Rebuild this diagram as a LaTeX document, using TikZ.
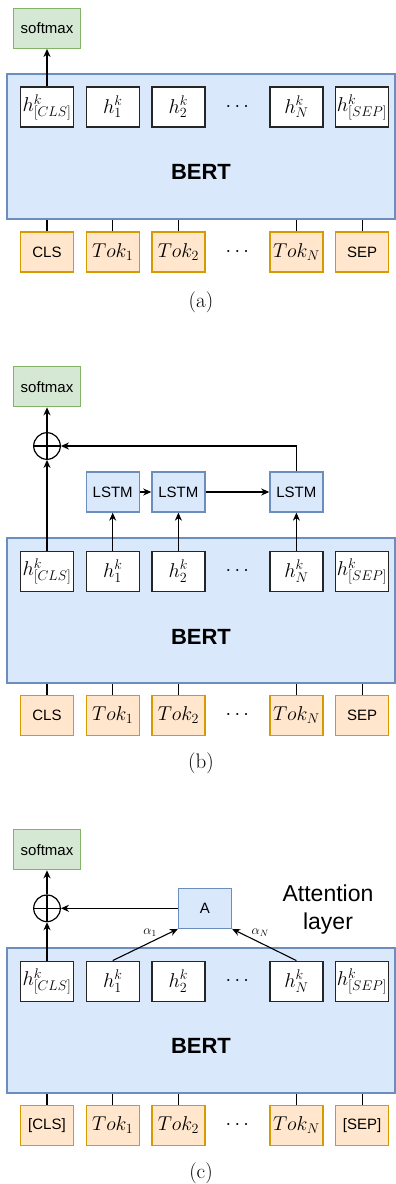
\RequirePackage{fix-cm}
\documentclass[tikz,border=0pt]{standalone}
\usepackage{fontspec}
\setsansfont{Liberation Sans}
\usetikzlibrary{positioning, arrows.meta}
\definecolor{bertfill}{HTML}{DAE8FC}
\definecolor{bertdraw}{HTML}{6C8EBF}
\definecolor{tokfill}{HTML}{FFE6CC}
\definecolor{tokdraw}{HTML}{D79B00}
\definecolor{smfill}{HTML}{D5E8D4}
\definecolor{smdraw}{HTML}{82B366}

\begin{document}
\begin{tikzpicture}[
    x=1pt, y=-1pt,
    node distance=65.7pt,
    on grid,
    mathtext/.style={font=\fontsize{20}{24}\selectfont},
    sanstext/.style={font=\sffamily\fontsize{15}{18}\selectfont},
    bertbox/.style={draw=bertdraw, fill=bertfill, line width=1.2pt, minimum width=388pt, minimum height=145pt},
    bertlbl/.style={font=\sffamily\bfseries\fontsize{22}{26}\selectfont},
    hbox/.style={draw=black!85, fill=white, line width=1.3pt, minimum width=53pt, minimum height=40pt, inner sep=0pt, mathtext},
    tokbox/.style={hbox, draw=tokdraw, fill=tokfill},
    tokword/.style={tokbox, sanstext},
    cellbox/.style={hbox, draw=bertdraw, fill=bertfill, sanstext},
    smbox/.style={draw=smdraw, fill=smfill, line width=1.2pt, minimum width=67pt, minimum height=40pt, inner sep=0pt, sanstext},
    sumnode/.style={circle, draw=black, line width=1.2pt, minimum size=26.6pt, inner sep=0pt,
        path picture={\draw[line width=1.2pt] (path picture bounding box.north) -- (path picture bounding box.south)
                                              (path picture bounding box.west) -- (path picture bounding box.east);}},
    dotnode/.style={mathtext},
    capnode/.style={font=\fontsize{21}{25}\selectfont},
    alpha/.style={font=\fontsize{13}{15}\selectfont, inner sep=1pt},
    attlbl/.style={font=\sffamily\fontsize{23}{27.6}\selectfont, align=center},
    heavy/.style={line width=1.6pt},
    every edge/.append style={line width=1.1pt, >={Stealth[length=8pt, width=7pt, inset=2.5pt]}}
]
   \useasboundingbox (0,0) rectangle (396,1184);

   % ---------- (a) ----------
   \node[bertbox] (a-bert) at (201,146.5) {};
   \node[bertlbl] (a-bertlbl) at (201,172) {BERT};
   % hidden states
   \node[hbox] (a-h0) at (47,107) {$h^k_{[CLS]}$};
   \node[hbox] (a-h1) [right=of a-h0] {$h^k_1$};
   \node[hbox] (a-h2) [right=of a-h1] {$h^k_2$};
   \node[dotnode] (a-hd) [right=59pt of a-h2] {$\cdots$};
   \node[hbox] (a-hN) [right=59pt of a-hd] {$h^k_N$};
   \node[hbox] (a-h9) [right=of a-hN] {$h^k_{[SEP]}$};
   % tokens
   \node[tokword] (a-t0) [below=145pt of a-h0] {CLS};
   \node[tokbox] (a-t1) [below=145pt of a-h1] {$Tok_1$};
   \node[tokbox] (a-t2) [below=145pt of a-h2] {$Tok_2$};
   \node[dotnode] (a-td) [below=145pt of a-hd] {$\cdots$};
   \node[tokbox] (a-tN) [below=145pt of a-hN] {$Tok_N$};
   \node[tokword] (a-t9) [below=145pt of a-h9] {SEP};
   % output
   \node[smbox] (a-sm) [above=78.7pt of a-h0] {softmax};
   \node[capnode] (a-cap) at (201,302) {(a)};

   \path[->] (a-h0) edge[heavy] (a-sm);
   \path (a-t0) edge (a-t0 |- a-bert.south)
         (a-t1) edge (a-t1 |- a-bert.south)
         (a-t2) edge (a-t2 |- a-bert.south)
         (a-tN) edge (a-tN |- a-bert.south)
         (a-t9) edge (a-t9 |- a-bert.south);

   % ---------- (b) ----------
   \node[bertbox] (b-bert) at (201,610.5) {};
   \node[bertlbl] (b-bertlbl) at (201,636.7) {BERT};
   % hidden states
   \node[hbox] (b-h0) at (47,571.2) {$h^k_{[CLS]}$};
   \node[hbox] (b-h1) [right=of b-h0] {$h^k_1$};
   \node[hbox] (b-h2) [right=of b-h1] {$h^k_2$};
   \node[dotnode] (b-hd) [right=59pt of b-h2] {$\cdots$};
   \node[hbox] (b-hN) [right=59pt of b-hd] {$h^k_N$};
   \node[hbox] (b-h9) [right=of b-hN] {$h^k_{[SEP]}$};
   % tokens
   \node[tokword] (b-t0) [below=144.2pt of b-h0] {CLS};
   \node[tokbox] (b-t1) [below=144.2pt of b-h1] {$Tok_1$};
   \node[tokbox] (b-t2) [below=144.2pt of b-h2] {$Tok_2$};
   \node[dotnode] (b-td) [below=144.2pt of b-hd] {$\cdots$};
   \node[tokbox] (b-tN) [below=144.2pt of b-hN] {$Tok_N$};
   \node[tokword] (b-t9) [below=144.2pt of b-h9] {SEP};
   % LSTM layer
   \node[cellbox] (b-l1) [above=79.2pt of b-h1] {LSTM};
   \node[cellbox] (b-l2) [above=79.2pt of b-h2] {LSTM};
   \node[cellbox] (b-l3) [above=79.2pt of b-hN] {LSTM};
   % output
   \node[sumnode] (b-sum) [above=125.2pt of b-h0] {};
   \node[smbox] (b-sm) [above=59.3pt of b-sum] {softmax};
   \node[capnode] (b-cap) at (201,763) {(b)};

   \path[->] (b-h0) edge (b-sum)
             (b-h1) edge (b-l1)
             (b-h2) edge (b-l2)
             (b-hN) edge (b-l3)
             (b-l1) edge (b-l2)
             (b-l2) edge (b-l3)
             (b-sum) edge[heavy] (b-sm);
   \draw[line width=1.1pt, -{Stealth[length=8pt, width=7pt, inset=2.5pt]}] (b-l3.north) |- (b-sum.east);
   \path (b-t0) edge (b-t0 |- b-bert.south)
         (b-t1) edge (b-t1 |- b-bert.south)
         (b-t2) edge (b-t2 |- b-bert.south)
         (b-tN) edge (b-tN |- b-bert.south)
         (b-t9) edge (b-t9 |- b-bert.south);

   % ---------- (c) ----------
   \node[bertbox] (c-bert) at (201,1020.5) {};
   \node[bertlbl] (c-bertlbl) at (201,1046) {BERT};
   % hidden states
   \node[hbox] (c-h0) at (47,981.2) {$h^k_{[CLS]}$};
   \node[hbox] (c-h1) [right=of c-h0] {$h^k_1$};
   \node[hbox] (c-h2) [right=of c-h1] {$h^k_2$};
   \node[dotnode] (c-hd) [right=59pt of c-h2] {$\cdots$};
   \node[hbox] (c-hN) [right=59pt of c-hd] {$h^k_N$};
   \node[hbox] (c-h9) [right=of c-hN] {$h^k_{[SEP]}$};
   % tokens
   \node[tokword] (c-t0) [below=144.2pt of c-h0] {[CLS]};
   \node[tokbox] (c-t1) [below=144.2pt of c-h1] {$Tok_1$};
   \node[tokbox] (c-t2) [below=144.2pt of c-h2] {$Tok_2$};
   \node[dotnode] (c-td) [below=144.2pt of c-hd] {$\cdots$};
   \node[tokbox] (c-tN) [below=144.2pt of c-hN] {$Tok_N$};
   \node[tokword] (c-t9) [below=144.2pt of c-h9] {[SEP]};
   % attention
   \node[sumnode] (c-sum) [above=72.9pt of c-h0] {};
   \node[cellbox] (c-att) [right=158pt of c-sum] {A};
   \node[attlbl] (c-attlbl) at (328,909.5) {Attention\\layer};
   \node[smbox] (c-sm) [above=58.6pt of c-sum] {softmax};
   \node[capnode] (c-cap) at (201,1173) {(c)};

   \path[->] (c-h0) edge (c-sum)
             (c-att) edge (c-sum)
             (c-h1.north) edge node[alpha, pos=0.7, above left] {$\alpha_1$} (c-att.south west)
             (c-hN.north) edge node[alpha, pos=0.72, above right] {$\alpha_N$} (c-att.south east)
             (c-sum) edge[heavy] (c-sm);
   \path (c-t0) edge (c-t0 |- c-bert.south)
         (c-t1) edge (c-t1 |- c-bert.south)
         (c-t2) edge (c-t2 |- c-bert.south)
         (c-tN) edge (c-tN |- c-bert.south)
         (c-t9) edge (c-t9 |- c-bert.south);
\end{tikzpicture}
\end{document}
